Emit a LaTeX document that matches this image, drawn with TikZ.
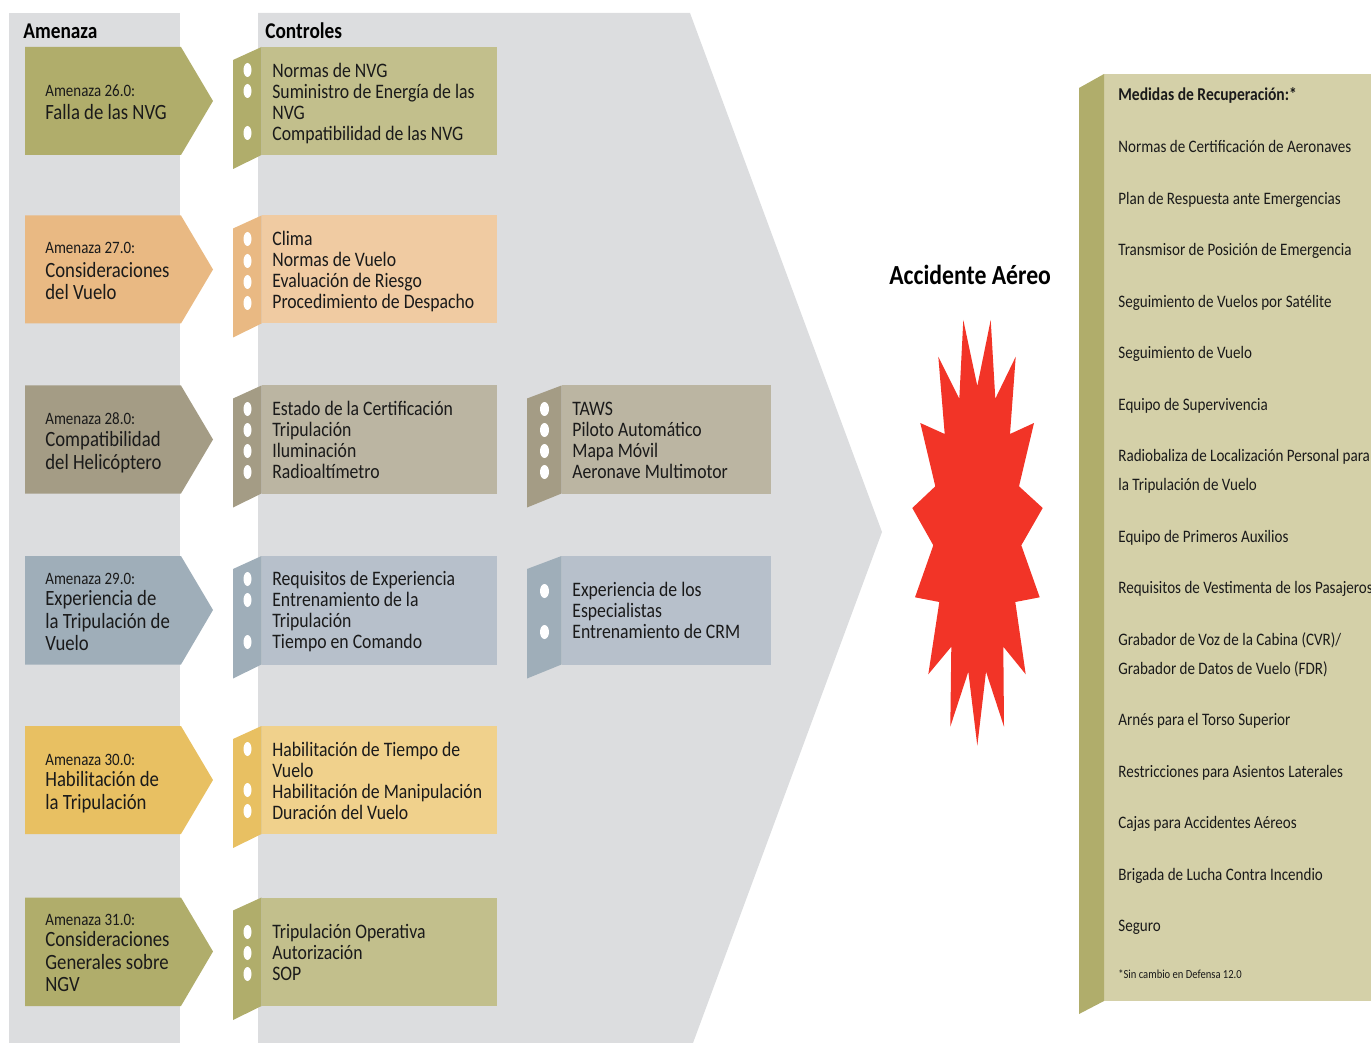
\documentclass[tikz,border=0pt]{standalone}
\usepackage{fontspec}
\setmainfont[FakeStretch=0.86]{Carlito}

\definecolor{panelgray}{HTML}{DCDDDF}
\definecolor{olivedark}{HTML}{B0AD6B}
\definecolor{olivelight}{HTML}{C2BF8C}
\definecolor{orangedark}{HTML}{E9B983}
\definecolor{orangelight}{HTML}{F0CBA2}
\definecolor{taupedark}{HTML}{A49C85}
\definecolor{taupelight}{HTML}{BBB5A2}
\definecolor{bluedark}{HTML}{9FAEB9}
\definecolor{bluelight}{HTML}{B7C0CB}
\definecolor{yellowdark}{HTML}{E8C062}
\definecolor{yellowlight}{HTML}{F0D18C}
\definecolor{recoverylight}{HTML}{D4D0A8}
\definecolor{blastred}{HTML}{F23427}
\definecolor{inktext}{HTML}{1A1A1A}

\tikzset{
    headtext/.style={anchor=base west, inner sep=0pt, text=black, font=\fontsize{12.8}{14}\selectfont\bfseries},
    ctrltext/.style={anchor=base west, inner sep=0pt, text=inktext, align=left, font=\fontsize{11.72}{11.95}\selectfont},
    threatnum/.style={anchor=base west, inner sep=0pt, text=inktext, font=\fontsize{9.9}{11}\selectfont},
    threatname/.style={anchor=base west, inner sep=0pt, text=inktext, align=left, font=\fontsize{12.4}{12.7}\selectfont},
    recoverytext/.style={anchor=base west, inner sep=0pt, text=inktext, font=\fontsize{9.97}{11}\selectfont},
    hole/.style={fill=white, draw=none}
}

\begin{document}
\begin{tikzpicture}[x=0.02cm, y=-0.02cm]
            \useasboundingbox (0, 0) rectangle (1371, 1043);
            \clip (0, 0) rectangle (1371, 1043);

            % grey bands
            \fill[panelgray] (9, 13) rectangle (180, 1043);
            \fill[panelgray] (258, 13) -- (690, 13) -- (882, 532) -- (693, 1043) -- (258, 1043) -- cycle;

            % threats
            \fill[olivedark] (25, 47) -- (181, 47) -- (213, 101) -- (181, 155) -- (25, 155) -- cycle;
            \fill[orangedark] (25, 215.5) -- (181, 215.5) -- (213, 269.5) -- (181, 323.5) -- (25, 323.5) -- cycle;
            \fill[taupedark] (25, 385.5) -- (181, 385.5) -- (213, 439.5) -- (181, 493.5) -- (25, 493.5) -- cycle;
            \fill[bluedark] (25, 556) -- (181, 556) -- (213, 610) -- (181, 664.5) -- (25, 664.5) -- cycle;
            \fill[yellowdark] (25, 726) -- (181, 726) -- (213, 780) -- (181, 834) -- (25, 834) -- cycle;
            \fill[olivedark] (25, 897.5) -- (181, 897.5) -- (213, 951.5) -- (181, 1006) -- (25, 1006) -- cycle;

            \node[threatnum] (num26) at (45, 97) {Amenaza 26.0:};
            \node[threatname] (threat26) at (45, 119.5) {Falla de las NVG};
            \node[threatnum] (num27) at (45, 254) {Amenaza 27.0:};
            \node[threatname] (threat27) at (45, 299.5) {Consideraciones\\del Vuelo};
            \node[threatnum] (num28) at (45, 424) {Amenaza 28.0:};
            \node[threatname] (threat28) at (45, 469) {Compatibilidad\\del Helicóptero};
            \node[threatnum] (num29) at (45, 584) {Amenaza 29.0:};
            \node[threatname] (threat29) at (45, 650.5) {Experiencia de\\la Tripulación de\\Vuelo};
            \node[threatnum] (num30) at (45, 765) {Amenaza 30.0:};
            \node[threatname] (threat30) at (45, 809) {Habilitación de\\la Tripulación};
            \node[threatnum] (num31) at (45, 925) {Amenaza 31.0:};
            \node[threatname] (threat31) at (45, 991.5) {Consideraciones\\Generales sobre\\NGV};

            % controls
            \fill[olivelight] (261.5, 47) rectangle (497, 155);
            \fill[olivedark] (233, 60) -- (261.5, 47) -- (261.5, 155) -- (233, 169) -- cycle;
            \fill[orangelight] (261.5, 215.5) rectangle (497, 323.5);
            \fill[orangedark] (233, 228.5) -- (261.5, 215.5) -- (261.5, 323.5) -- (233, 337.5) -- cycle;
            \fill[taupelight] (261.5, 385.5) rectangle (497, 493.5);
            \fill[taupedark] (233, 398.5) -- (261.5, 385.5) -- (261.5, 493.5) -- (233, 507.5) -- cycle;
            \fill[bluelight] (261.5, 556) rectangle (497, 664.5);
            \fill[bluedark] (233, 569) -- (261.5, 556) -- (261.5, 664.5) -- (233, 678.5) -- cycle;
            \fill[yellowlight] (261.5, 726) rectangle (497, 834);
            \fill[yellowdark] (233, 739) -- (261.5, 726) -- (261.5, 834) -- (233, 848) -- cycle;
            \fill[olivelight] (261.5, 897.5) rectangle (497, 1006);
            \fill[olivedark] (233, 910.5) -- (261.5, 897.5) -- (261.5, 1006) -- (233, 1020) -- cycle;
            \fill[taupelight] (561.5, 385.5) rectangle (771, 493.5);
            \fill[taupedark] (527, 398.5) -- (561.5, 385.5) -- (561.5, 493.5) -- (527, 507.5) -- cycle;
            \fill[bluelight] (561.5, 556) rectangle (771, 664.5);
            \fill[bluedark] (527, 569) -- (561.5, 556) -- (561.5, 664.5) -- (527, 678.5) -- cycle;

            \foreach \y in {70, 91, 133, 239, 261, 282, 303, 409, 430, 451, 472, 579, 600, 642, 749, 790, 811, 932, 953, 974} {
                \fill[hole] (247.5, \y) ellipse (4 and 7);
            }
            \foreach \y in {409, 430, 451, 472, 591, 632} {
                \fill[hole] (544.5, \y) ellipse (4.5 and 7);
            }

            \node[ctrltext] (ctrl26) at (272, 140.5) {Normas de NVG\\Suministro de Energía de las\\NVG\\Compatibilidad de las NVG};
            \node[ctrltext] (ctrl27) at (272, 308.5) {Clima\\Normas de Vuelo\\Evaluación de Riesgo\\Procedimiento de Despacho};
            \node[ctrltext] (ctrl28) at (272, 478) {Estado de la Certificación\\Tripulación\\Iluminación\\Radioaltímetro};
            \node[ctrltext] (ctrl29) at (272, 648.5) {Requisitos de Experiencia\\Entrenamiento de la\\Tripulación\\Tiempo en Comando};
            \node[ctrltext] (ctrl30) at (272, 819) {Habilitación de Tiempo de\\Vuelo\\Habilitación de Manipulación\\Duración del Vuelo};
            \node[ctrltext] (ctrl31) at (272, 980) {Tripulación Operativa\\Autorización\\SOP};
            \node[ctrltext] (extra28) at (572, 478) {TAWS\\Piloto Automático\\Mapa Móvil\\Aeronave Multimotor};
            \node[ctrltext] (extra29) at (572, 638) {Experiencia de los\\Especialistas\\Entrenamiento de CRM};

            \node[headtext] (amenaza) at (23, 38.5) {Amenaza};
            \node[headtext] (controles) at (265, 38.5) {Controles};

            % event
            \node[headtext, font=\fontsize{15.7}{18}\selectfont\bfseries] (accidente) at (889, 285) {Accidente Aéreo};
            \fill[blastred] (963.3, 320) -- (977.3, 386) -- (990.7, 320) -- (995.3, 398.7) -- (1015.7, 356.7)
                -- (1010, 434) -- (1034, 423) -- (1019, 486.3) -- (1042.7, 508) -- (1021.3, 545.3)
                -- (1039.7, 597.3) -- (1015.3, 602) -- (1025.7, 674.3) -- (1003.3, 646.7) -- (1004, 726.7)
                -- (986, 671.7) -- (977.3, 745.7) -- (968.3, 671.7) -- (950.3, 726.7) -- (951.3, 646.7)
                -- (928.3, 674.3) -- (939.3, 602) -- (915, 597.3) -- (933.3, 545.3) -- (912.3, 508)
                -- (935.3, 486.3) -- (920.3, 423) -- (944.7, 434) -- (938.3, 356.7) -- (959.3, 398.7) -- cycle;

            % recovery
            \fill[recoverylight] (1104, 74) rectangle (1371, 1001);
            \fill[olivedark] (1079, 88) -- (1104, 74) -- (1104, 1001) -- (1079, 1014) -- cycle;

            \node[recoverytext, font=\fontsize{10.3}{11}\selectfont\bfseries] (medidas) at (1118, 101) {Medidas de Recuperación:*};
            \node[recoverytext] (rec1) at (1118, 153) {Normas de Certificación de Aeronaves};
            \node[recoverytext] (rec2) at (1118, 205) {Plan de Respuesta ante Emergencias};
            \node[recoverytext] (rec3) at (1118, 256) {Transmisor de Posición de Emergencia};
            \node[recoverytext] (rec4) at (1118, 308) {Seguimiento de Vuelos por Satélite};
            \node[recoverytext] (rec5) at (1118, 358.5) {Seguimiento de Vuelo};
            \node[recoverytext] (rec6) at (1118, 410.5) {Equipo de Supervivencia};
            \node[recoverytext] (rec7) at (1118, 461.5) {Radiobaliza de Localización Personal para};
            \node[recoverytext] (rec7b) at (1118, 490.5) {la Tripulación de Vuelo};
            \node[recoverytext] (rec8) at (1118, 542.5) {Equipo de Primeros Auxilios};
            \node[recoverytext] (rec9) at (1118, 593.5) {Requisitos de Vestimenta de los Pasajeros};
            \node[recoverytext] (rec10) at (1118, 645.5) {Grabador de Voz de la Cabina (CVR)/};
            \node[recoverytext] (rec10b) at (1118, 674.5) {Grabador de Datos de Vuelo (FDR)};
            \node[recoverytext] (rec11) at (1118, 725.5) {Arnés para el Torso Superior};
            \node[recoverytext] (rec12) at (1118, 777.5) {Restricciones para Asientos Laterales};
            \node[recoverytext] (rec13) at (1118, 828.5) {Cajas para Accidentes Aéreos};
            \node[recoverytext] (rec14) at (1118, 880.5) {Brigada de Lucha Contra Incendio};
            \node[recoverytext] (rec15) at (1118, 931.5) {Seguro};
            \node[recoverytext, font=\fontsize{7}{8}\selectfont] (nota) at (1118, 978.5) {*Sin cambio en Defensa 12.0};
        \end{tikzpicture}
\end{document}
